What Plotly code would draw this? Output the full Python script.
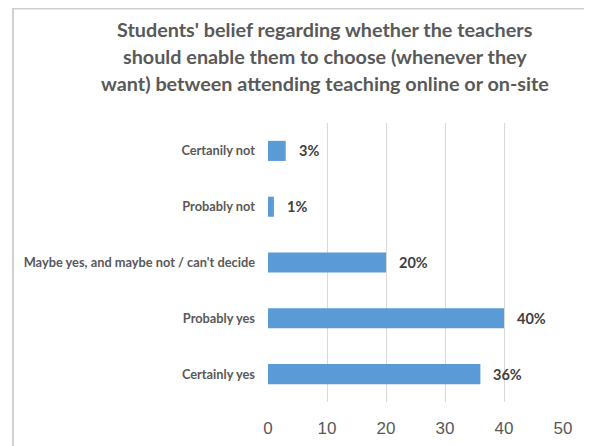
import plotly.graph_objects as go

categories = ["Certanily not", "Probably not", "Maybe yes, and maybe not / can't decide",
              "Probably yes", "Certainly yes"]
values = [3, 1, 20, 40, 36]
value_labels = ["3%", "1%", "20%", "40%", "36%"]
title_lines = ["Students' belief regarding whether the teachers",
               "should enable them to choose (whenever they",
               "want) between attending teaching online or on-site"]
x_ticks = [0, 10, 20, 30, 40, 50]

OFF = 8  # browser body margin
W, H = 592 - OFF, 446 - OFF
L, R, T, B = 268 - OFF, 29, 123 - OFF, 44
pw, ph = W - L - R, H - T - B

def px_to_paper_x(px):
    return (px - OFF - L) / pw

def px_to_paper_y(py):
    return (H - B - (py - OFF)) / ph

narrow = "Lato, Roboto, sans-serif"

fig = go.Figure(go.Bar(
    x=values, y=categories, orientation="h",
    marker=dict(color="#5B9BD5", line=dict(width=0)),
    width=0.36,
))

annotations = []
for c, v, t in zip(categories, values, value_labels):
    annotations.append(dict(x=v, y=c, xref="x", yref="y", text="<b>%s</b>" % t,
                            showarrow=False, xanchor="left", xshift=11,
                            font=dict(family=narrow, size=14.5, color="#404040")))
for i, line in enumerate(title_lines):
    annotations.append(dict(x=px_to_paper_x(325), y=px_to_paper_y(29 + 27 * i),
                            xref="paper", yref="paper", text="<b>%s</b>" % line,
                            showarrow=False, xanchor="center", yanchor="middle",
                            font=dict(family="Lato, Open Sans, sans-serif", size=19.8,
                                      color="#595959")))

shapes = [
    dict(type="line", xref="paper", yref="paper",
         x0=px_to_paper_x(13), x1=px_to_paper_x(13),
         y0=px_to_paper_y(8), y1=px_to_paper_y(446),
         line=dict(color="#D0D0D0", width=2)),
    dict(type="line", xref="paper", yref="paper",
         x0=px_to_paper_x(12), x1=px_to_paper_x(600),
         y0=px_to_paper_y(8.7), y1=px_to_paper_y(8.7),
         line=dict(color="#D0D0D0", width=1.5)),
]

fig.update_layout(
    width=W, height=H,
    margin=dict(l=L, r=R, t=T, b=B, pad=0, autoexpand=False),
    paper_bgcolor="white", plot_bgcolor="white",
    showlegend=False,
    annotations=annotations,
    shapes=shapes,
    xaxis=dict(range=[0, 50], tickvals=x_ticks, showgrid=True, gridcolor="#D9D9D9",
               gridwidth=1, zeroline=False, showline=False, ticks="",
               automargin=False,
               tickfont=dict(family="Liberation Sans, Arial, sans-serif", size=17,
                             color="#595959"),
               ticklabelstandoff=14, fixedrange=True),
    yaxis=dict(autorange="reversed", showgrid=False, zeroline=False, showline=False,
               ticks="", ticklabelstandoff=12, automargin=False,
               tickfont=dict(family=narrow, size=12.8, color="#595959"),
               tickprefix="<b>", ticksuffix="</b>"),
)

fig.write_html("out.html")
